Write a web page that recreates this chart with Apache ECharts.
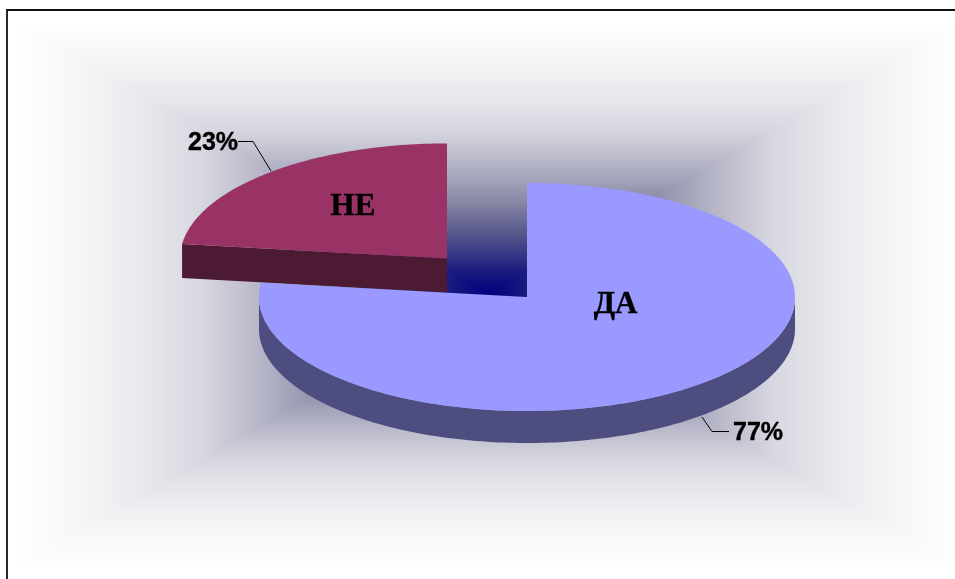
<!DOCTYPE html>
<html>
<head>
<meta charset="utf-8">
<style>html,body{margin:0;padding:0;background:#fff}#c{width:955px;height:579px}</style>
<script src="https://cdn.jsdelivr.net/npm/echarts@6/dist/echarts.min.js"></script>
</head>
<body>
<div id="c"></div>
<script>
const categories = ['ДА', 'НЕ'];
const values = [77, 23];
const topColors = ['#9999ff', '#993366'];
const sideColors = ['#4d4d80', '#4d1a33'];
const percentLabels = ['77%', '23%'];

// layout of the tilted pie
const CX = 527, CY = 297;
const RXS = [268, 267], RYS = [114, 115], DEPTHS = [32, 34];
const EXPLODE = [0, 121];
const NAME_POS = [[615.5, 305], [353, 207]];
const PCT_POS = [[758, 433], [213, 143]];
const LEADERS = [[[702, 417], [712, 431.5], [729, 431.5]], [[238, 141.5], [253, 141.5], [271, 171]]];
// background path gradient
const BG = {cx: 488, cy: 294, x0: 18, x1: 958, y0: 22, y1: 566};
const BG_STOPS = [[0,'#00007f'],[0.08,'#1a1a80'],[0.23,'#5a5a8c'],[0.35,'#8c8ca8'],[0.45,'#acacc0'],[0.6,'#d6d6e0'],[0.7,'#e4e4ea'],[0.8,'#eff0f2'],[0.9,'#f8f8f9'],[1,'#ffffff']];

const total = values.reduce((a, b) => a + b, 0);
const stops = BG_STOPS.map(s => ({offset: s[0], color: s[1]}));
const grad = (x, y, x2, y2) => new echarts.graphic.LinearGradient(x, y, x2, y2, stops, true);

function tri(a, b, x2, y2) {
  return {type: 'polygon', silent: true, shape: {points: [[BG.cx, BG.cy], a, b]},
    style: {fill: grad(BG.cx, BG.cy, x2, y2)}};
}
const bgEls = [
  {type: 'rect', silent: true, shape: {x: 0, y: 0, width: 955, height: 579}, style: {fill: '#ffffff'}},
  {type: 'rect', silent: true, shape: {x: BG.x0, y: BG.y0, width: BG.x1 - BG.x0, height: BG.cy - BG.y0}, style: {fill: grad(BG.cx, BG.cy, BG.cx, BG.y0)}},
  {type: 'rect', silent: true, shape: {x: BG.x0, y: BG.cy, width: BG.x1 - BG.x0, height: BG.y1 - BG.cy}, style: {fill: grad(BG.cx, BG.cy, BG.cx, BG.y1)}},
  tri([BG.x0, BG.y0], [BG.x0, BG.y1], BG.x0, BG.cy),
  tri([BG.x1, BG.y0], [BG.x1, BG.y1], BG.x1, BG.cy),
  {type: 'polyline', silent: true, shape: {points: [[7, 579], [7, 10], [955, 10]]}, style: {stroke: '#111', lineWidth: 1.8, fill: null}}
];

function renderSlice(params, api) {
  const i = params.dataIndex;
  const RX = RXS[i], RY = RYS[i], DEPTH = DEPTHS[i];
  let before = 0;
  for (let k = 0; k < i; k++) before += values[k];
  const a0 = before / total * 360, a1 = (before + api.value(0)) / total * 360;
  const mid = (a0 + a1) / 2 * Math.PI / 180;
  const cx = CX + EXPLODE[i] * Math.sin(mid);
  const cy = CY - EXPLODE[i] * Math.cos(mid) * 114 / 268;
  const pt = deg => { const r = deg * Math.PI / 180; return [cx + RX * Math.sin(r), cy - RY * Math.cos(r)]; };
  const angs = [];
  for (let a = a0; a < a1; a += 1) angs.push(a);
  angs.push(a1);
  const arc = angs.map(pt);
  const base = (i === 0 ? 20 : 10);
  const kids = [];
  // outer wall (lower half of the ellipse)
  const low = angs.filter(a => a >= 90 && a <= 270).map(pt);
  if (low.length) {
    kids.push({type: 'polygon', z2: base, silent: true,
      shape: {points: low.concat(low.slice().reverse().map(p => [p[0], p[1] + DEPTH]))},
      style: {fill: sideColors[i]}});
  }
  // cut wall facing the viewer
  if (a0 > 180) {
    const s = pt(a0);
    kids.push({type: 'polygon', z2: base, silent: true,
      shape: {points: [[cx, cy], s, [s[0], s[1] + DEPTH], [cx, cy + DEPTH]]},
      style: {fill: sideColors[i]}});
  }
  kids.push({type: 'polygon', z2: base + 1, silent: true,
    shape: {points: [[cx, cy]].concat(arc)}, style: {fill: topColors[i]}});
  kids.push({type: 'text', z2: 50, silent: true,
    style: {x: NAME_POS[i][0], y: NAME_POS[i][1], text: categories[i], align: 'center', verticalAlign: 'middle',
      font: 'bold 31px "Liberation Serif"', fill: '#000', stroke: '#000', lineWidth: 0.4}});
  kids.push({type: 'text', z2: 50, silent: true,
    style: {x: PCT_POS[i][0], y: PCT_POS[i][1], text: percentLabels[i], align: 'center', verticalAlign: 'middle',
      font: 'bold 25px "Liberation Sans"', fill: '#000', stroke: '#000', lineWidth: 0.4}});
  kids.push({type: 'polyline', z2: 49, silent: true, shape: {points: LEADERS[i]},
    style: {stroke: '#000', lineWidth: 1, fill: null}});
  return {type: 'group', children: kids};
}

const chart = echarts.init(document.getElementById('c'), null, {renderer: 'canvas'});
chart.setOption({
  animation: false,
  backgroundColor: '#fff',
  graphic: {elements: [{type: 'group', z: -1, silent: true, children: bgEls}]},
  series: [{
    type: 'custom',
    coordinateSystem: 'none',
    renderItem: renderSlice,
    encode: {value: 0},
    data: values.map((v, i) => ({name: categories[i], value: v}))
  }]
});
</script>
</body>
</html>
